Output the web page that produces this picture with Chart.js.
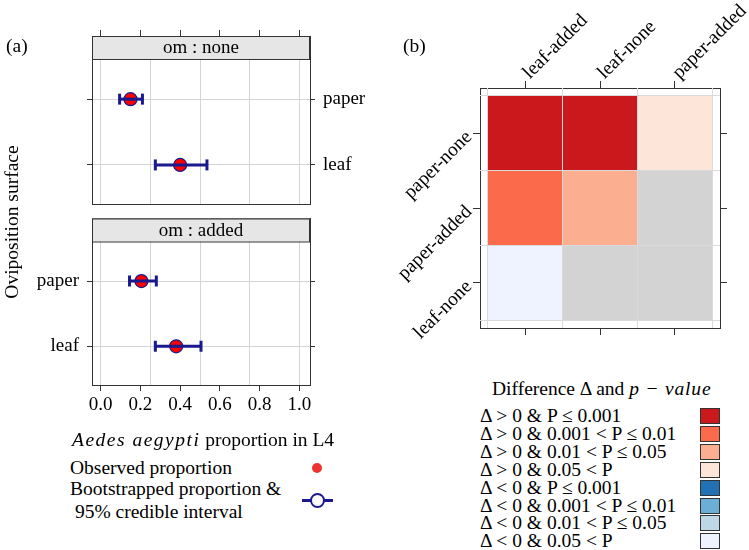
<!DOCTYPE html>
<html>
<head>
<meta charset="utf-8">
<script src="https://cdn.jsdelivr.net/npm/chart.js@4.4.1/dist/chart.umd.min.js"></script>
<style>
  body { margin: 0; background: #fff; }
  #wrap { position: relative; width: 749px; height: 550px; overflow: hidden;
          font-family: 'Liberation Serif', 'Times New Roman', serif; color: #000; }
  #wrap canvas { position: absolute; }
  .txt { position: absolute; white-space: pre; font-size: 19.5px; line-height: 22px; }
  .sw { position: absolute; width: 18px; height: 14px; border: 1px solid #333; }
</style>
</head>
<body>
<div id="wrap">
  <canvas id="omNone" width="380" height="215" style="left:0;top:0;width:380px;height:215px"></canvas>
  <canvas id="omAdded" width="380" height="215" style="left:0;top:210px;width:380px;height:215px"></canvas>
  <canvas id="heat" width="359" height="340" style="left:390px;top:0;width:359px;height:340px"></canvas>

  <div class="txt" style="left:6px;top:35px">(a)</div>
  <div class="txt" style="left:403px;top:35px">(b)</div>
  <div class="txt" style="left:-88px;top:211px;width:200px;text-align:center;transform:rotate(-90deg)">Oviposition surface</div>
  <div class="txt" style="left:72px;top:429px"><i style="letter-spacing:1.5px">Aedes aegypti</i> proportion in L4</div>

  <div class="txt" style="left:70px;top:457px">Observed proportion</div>
  <div class="txt" style="left:70px;top:478px">Bootstrapped proportion &amp;</div>
  <div class="txt" style="left:70px;top:501px"> 95% credible interval</div>
  <div style="position:absolute;left:312px;top:463px;width:10px;height:10px;border-radius:50%;background:#ee3333"></div>
  <div style="position:absolute;left:302px;top:499px;width:31px;height:3px;background:#1a1a8c"></div>
  <div style="position:absolute;left:310px;top:493px;width:11px;height:11px;border-radius:50%;background:#fff;border:2px solid #1a1a8c"></div>

  <div class="txt" style="left:492px;top:378px">Difference Δ and <i style="letter-spacing:0.8px">p − value</i></div>
  <div id="heatLegend"></div>
</div>

<script>
// ---- data (a): proportion of Aedes aegypti in L4 ----
const surfaces = ['paper', 'leaf'];
const xTicks = [0, 0.2, 0.4, 0.6, 0.8, 1.0];
const xGridLines = [0, 0.25, 0.5, 0.75, 1.0];

const obsNone = [0.15, 0.40];
const lowNone = [0.095, 0.275];
const highNone = [0.21, 0.535];

const obsAdded = [0.205, 0.38];
const lowAdded = [0.145, 0.275];
const highAdded = [0.28, 0.505];

// ---- data (b): pairwise differences ----
const colLabels = ['leaf-added', 'leaf-none', 'paper-added'];
const rowLabels = ['paper-none', 'paper-added', 'leaf-none'];   // top to bottom
const cellClass = [
    [0, 0, 3],
    [1, 2, null],
    [7, null, null]
];
const classLabels = [
    'Δ > 0 & P ≤ 0.001',
    'Δ > 0 & 0.001 < P ≤ 0.01',
    'Δ > 0 & 0.01 < P ≤ 0.05',
    'Δ > 0 & 0.05 < P',
    'Δ < 0 & P ≤ 0.001',
    'Δ < 0 & 0.001 < P ≤ 0.01',
    'Δ < 0 & 0.01 < P ≤ 0.05',
    'Δ < 0 & 0.05 < P'
];
const classColors = ['#cb181d', '#fb6a4a', '#fcae91', '#fee5d9', '#2171b5', '#6baed6', '#bdd7e7', '#eff3ff'];
const naColor = '#d3d3d3';

const AX = '#333333';
const GRID = '#d4d4d4';
const NAVY = '#1a1a8c';
const SERIF = "'Liberation Serif', 'Times New Roman', serif";

function fixSize(prop, px) {
    return s => { s[prop] = px; s.paddingTop = 0; s.paddingBottom = 0; s.paddingLeft = 0; s.paddingRight = 0; };
}
function setTicks(values) {
    return s => { s.ticks = values.map(v => ({ value: v })); };
}

const stripPlugin = {
    id: 'strip',
    afterDraw(chart, args, opts) {
        const { ctx, chartArea: a } = chart;
        ctx.save();
        ctx.fillStyle = '#e6e6e6';
        ctx.fillRect(a.left, a.top, a.right - a.left, opts.height);
        ctx.strokeStyle = AX;
        ctx.lineWidth = 1;
        ctx.strokeRect(a.left + 0.5, a.top + 0.5, a.right - a.left - 1, opts.height);
        ctx.fillStyle = '#000';
        ctx.font = '19px ' + SERIF;
        ctx.textAlign = 'center';
        ctx.textBaseline = 'middle';
        ctx.fillText(opts.text, (a.left + a.right) / 2, a.top + opts.height / 2 + 1);
        ctx.restore();
    }
};

function dotPanel(id, obs, lo, hi, stripText, isTop) {
    const yPos = i => surfaces.length - i;
    const yLabel = v => surfaces[surfaces.length - v];
    const errBars = surfaces.map((s, i) => ({
        data: [{ x: lo[i], y: yPos(i) }, { x: hi[i], y: yPos(i) }],
        showLine: true,
        borderColor: NAVY,
        borderWidth: 3,
        pointStyle: 'line',
        rotation: 90,
        pointRadius: 5.5,
        pointHoverRadius: 5.5,
        pointBorderWidth: 3,
        pointBorderColor: NAVY
    }));
    const dots = {
        data: surfaces.map((s, i) => ({ x: obs[i], y: yPos(i) })),
        backgroundColor: '#ff0000',
        borderColor: NAVY,
        borderWidth: 1.2,
        pointRadius: 6.5,
        pointHoverRadius: 6.5
    };
    const tickFont = { family: SERIF, size: 19 };
    new Chart(document.getElementById(id), {
        type: 'scatter',
        data: { datasets: [...errBars, dots] },
        plugins: [stripPlugin],
        options: {
            responsive: false,
            animation: false,
            events: [],
            layout: { padding: 0 },
            plugins: {
                legend: { display: false },
                tooltip: { enabled: false },
                strip: { text: stripText, height: 23 }
            },
            scales: {
                x: {
                    type: 'linear', position: isTop ? 'top' : 'bottom',
                    min: -0.044, max: 1.054,
                    afterBuildTicks: setTicks(xTicks),
                    afterFit: fixSize('height', isTop ? 36 : 40),
                    ticks: { display: !isTop, color: '#000', font: tickFont, padding: 3,
                             callback: v => v.toFixed(1) },
                    grid: { drawOnChartArea: false, color: AX, tickLength: 6 },
                    border: { color: AX }
                },
                xg: {
                    type: 'linear', position: isTop ? 'bottom' : 'top',
                    min: -0.044, max: 1.054,
                    afterBuildTicks: setTicks(xGridLines),
                    afterFit: fixSize('height', isTop ? 11 : 6),
                    ticks: { display: false },
                    grid: { color: GRID, drawTicks: false },
                    border: { color: AX }
                },
                y: {
                    type: 'linear', position: 'left',
                    min: 0.406, max: 2.96,
                    afterBuildTicks: setTicks([1, 2]),
                    afterFit: fixSize('width', 92),
                    ticks: { display: !isTop, color: '#000', font: tickFont, padding: 8, callback: yLabel },
                    grid: { color: GRID, tickColor: AX, tickLength: 5 },
                    border: { color: AX }
                },
                yr: {
                    type: 'linear', position: 'right',
                    min: 0.406, max: 2.96,
                    afterBuildTicks: setTicks([1, 2]),
                    afterFit: fixSize('width', 70),
                    ticks: { display: isTop, color: '#000', font: tickFont, padding: 8, callback: yLabel },
                    grid: { drawOnChartArea: false, color: AX, tickLength: 5 },
                    border: { color: AX }
                }
            }
        }
    });
}

dotPanel('omNone', obsNone, lowNone, highNone, 'om : none', true);
dotPanel('omAdded', obsAdded, lowAdded, highAdded, 'om : added', false);

// ---- heatmap (b) ----
// rotated category labels on the left and top axes
const heatLabelPlugin = {
    id: 'heatLabels',
    afterDraw(chart) {
        const ctx = chart.ctx;
        const sy = chart.scales.y;
        const sx = chart.scales.x;
        ctx.save();
        ctx.font = '19.5px ' + SERIF;
        ctx.fillStyle = '#000';
        ctx.textBaseline = 'middle';
        ctx.textAlign = 'right';
        sy.ticks.forEach(t => {
            ctx.save();
            ctx.translate(sy.right - 11, sy.getPixelForValue(t.value) + 1);
            ctx.rotate(-Math.PI / 4);
            ctx.fillText(rowLabels[nR - 0.5 - t.value], 0, 0);
            ctx.restore();
        });
        ctx.textAlign = 'left';
        sx.ticks.forEach(t => {
            ctx.save();
            ctx.translate(sx.getPixelForValue(t.value) + 1, sx.bottom - 12);
            ctx.rotate(-Math.PI / 4);
            ctx.fillText(colLabels[t.value - 1], 0, 0);
            ctx.restore();
        });
        ctx.restore();
    }
};

const nR = rowLabels.length;
const cellSets = rowLabels.map((r, i) => ({
    label: r,
    data: colLabels.map((c, j) => ({ x: j + 1, y: [nR - 1 - i, nR - i] })),
    backgroundColor: cellClass[i].map(k => k === null ? naColor : classColors[k]),
    borderWidth: 0,
    barPercentage: 1,
    categoryPercentage: 1,
    grouped: false
}));

const HX = [0.395, 3.605];
const HY = [-0.105, 3.105];
const HGRID = '#dadada';
new Chart(document.getElementById('heat'), {
    type: 'bar',
    data: { datasets: cellSets },
    plugins: [heatLabelPlugin],
    options: {
        responsive: false,
        animation: false,
        events: [],
        layout: { padding: 0 },
        plugins: { legend: { display: false }, tooltip: { enabled: false } },
        scales: {
            x: {
                type: 'linear', position: 'top', min: HX[0], max: HX[1], offset: false,
                afterBuildTicks: setTicks([1, 2, 3]),
                afterFit: fixSize('height', 88),
                ticks: { display: false },
                grid: { drawOnChartArea: false, offset: false, color: AX, tickLength: 7 },
                border: { color: AX }
            },
            xb: {
                type: 'linear', position: 'bottom', min: HX[0], max: HX[1], offset: false,
                afterBuildTicks: setTicks([1, 2, 3]),
                afterFit: fixSize('height', 12),
                ticks: { display: false },
                grid: { drawOnChartArea: false, offset: false, color: AX, tickLength: 7 },
                border: { color: AX }
            },
            xg: {
                type: 'linear', position: 'bottom', min: HX[0], max: HX[1], offset: false,
                afterBuildTicks: setTicks([0.5, 1.5, 2.5, 3.5]),
                afterFit: fixSize('height', 0),
                ticks: { display: false },
                grid: { color: HGRID, offset: false, drawTicks: false, z: 1 },
                border: { display: false }
            },
            y: {
                type: 'linear', position: 'left', min: HY[0], max: HY[1], beginAtZero: false,
                afterBuildTicks: setTicks([0.5, 1.5, 2.5]),
                afterFit: fixSize('width', 90),
                ticks: { display: false },
                grid: { drawOnChartArea: false, color: AX, tickLength: 7 },
                border: { color: AX }
            },
            yr: {
                type: 'linear', position: 'right', min: HY[0], max: HY[1],
                afterBuildTicks: setTicks([0.5, 1.5, 2.5]),
                afterFit: fixSize('width', 29),
                ticks: { display: false },
                grid: { drawOnChartArea: false, color: AX, tickLength: 7 },
                border: { color: AX }
            },
            yg: {
                type: 'linear', position: 'left', min: HY[0], max: HY[1],
                afterBuildTicks: setTicks([0, 1, 2, 3]),
                afterFit: fixSize('width', 0),
                ticks: { display: false },
                grid: { color: HGRID, drawTicks: false, z: 1 },
                border: { display: false }
            }
        }
    }
});

// ---- heatmap legend ----
const legendBox = document.getElementById('heatLegend');
classLabels.forEach((lab, k) => {
    const cy = 416 + k * 17.9;
    const t = document.createElement('div');
    t.className = 'txt';
    t.style.left = '480px';
    t.style.top = (cy - 11) + 'px';
    t.textContent = lab;
    legendBox.appendChild(t);
    const sw = document.createElement('div');
    sw.className = 'sw';
    sw.style.left = '700px';
    sw.style.top = (cy - 8) + 'px';
    sw.style.background = classColors[k];
    legendBox.appendChild(sw);
});
</script>
</body>
</html>
